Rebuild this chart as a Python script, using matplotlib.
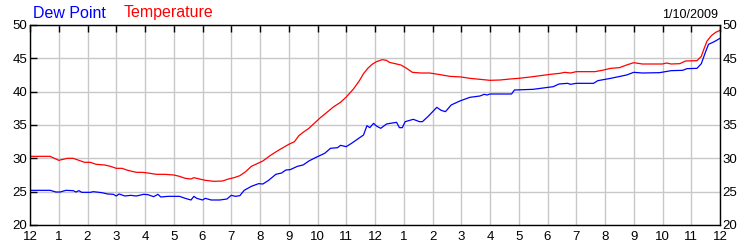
import matplotlib
matplotlib.use("Agg")
import matplotlib.pyplot as plt

# hours since midnight, 1/10/2009
TEMP_H = [0, 0.7, 0.85, 1.0, 1.1, 1.3, 1.5, 1.7, 1.9, 2.1, 2.3, 2.6, 2.8, 3.0, 3.2, 3.4, 3.7, 3.9,
          4.1, 4.4, 4.7, 5.0, 5.2, 5.4, 5.6, 5.7, 5.9, 6.1, 6.4, 6.7, 6.9, 7.1, 7.3, 7.5, 7.7, 7.9,
          8.1, 8.35, 8.6, 8.8, 9.0, 9.2, 9.35, 9.5, 9.7, 9.9, 10.1, 10.3, 10.55, 10.8, 11.0, 11.25,
          11.45, 11.6, 11.75, 11.9, 12.05, 12.25, 12.4, 12.5, 12.7, 12.9, 13.1, 13.3, 13.6, 13.9,
          14.2, 14.6, 15.0, 15.3, 15.65, 16.0, 16.35, 16.7, 17.0, 17.4, 17.75, 18.1, 18.43, 18.6,
          18.8, 19.0, 19.65, 19.9, 20.2, 20.5, 20.75, 21.0, 21.3, 21.6, 22.0, 22.14, 22.3, 22.6,
          22.8, 23.2, 23.35, 23.45, 23.55, 23.7, 23.85, 24]
TEMP = [30.3, 30.3, 30.0, 29.7, 29.8, 30.0, 30.0, 29.7, 29.4, 29.4, 29.1, 29.0, 28.8, 28.5, 28.5,
        28.2, 27.9, 27.9, 27.8, 27.6, 27.6, 27.5, 27.3, 27.0, 26.9, 27.1, 26.9, 26.7, 26.55, 26.6,
        26.9, 27.1, 27.4, 28.0, 28.8, 29.2, 29.6, 30.4, 31.1, 31.6, 32.1, 32.5, 33.4, 33.9, 34.5,
        35.3, 36.1, 36.8, 37.7, 38.4, 39.2, 40.4, 41.6, 42.7, 43.5, 44.1, 44.5, 44.8, 44.7, 44.4,
        44.2, 44.0, 43.5, 42.9, 42.8, 42.8, 42.6, 42.3, 42.2, 42.0, 41.85, 41.7, 41.75, 41.9, 42.0,
        42.2, 42.4, 42.6, 42.75, 42.9, 42.8, 43.0, 43.0, 43.2, 43.5, 43.6, 44.0, 44.35, 44.15,
        44.15, 44.15, 44.3, 44.15, 44.2, 44.6, 44.65, 45.3, 46.5, 47.6, 48.4, 48.9, 49.2]

DEW_H = [0, 0.7, 0.9, 1.05, 1.25, 1.5, 1.6, 1.7, 1.8, 2.1, 2.2, 2.5, 2.7, 2.9, 3.0, 3.1, 3.3, 3.5,
         3.7, 3.95, 4.1, 4.3, 4.45, 4.55, 4.8, 5.0, 5.2, 5.4, 5.6, 5.7, 5.8, 6.0, 6.1, 6.3, 6.6,
         6.85, 7.0, 7.15, 7.3, 7.45, 7.7, 7.95, 8.1, 8.3, 8.55, 8.75, 8.9, 9.05, 9.3, 9.5, 9.7,
         9.95, 10.25, 10.45, 10.7, 10.8, 11.0, 11.2, 11.4, 11.6, 11.72, 11.82, 11.95, 12.05, 12.2,
         12.4, 12.6, 12.75, 12.85, 12.95, 13.05, 13.33, 13.55, 13.65, 13.85, 14.15, 14.3, 14.45,
         14.65, 14.95, 15.3, 15.65, 15.8, 15.9, 16.0, 16.75, 16.85, 17.5, 18.2, 18.4, 18.7, 18.8,
         19.0, 19.6, 19.75, 20.2, 20.75, 21.0, 21.3, 21.9, 22.3, 22.7, 22.85, 23.2, 23.35, 23.5,
         23.6, 23.8, 24]
DEW = [25.2, 25.2, 24.95, 24.95, 25.2, 25.15, 24.95, 25.15, 24.9, 24.9, 25.0, 24.85, 24.65, 24.6,
       24.35, 24.65, 24.35, 24.45, 24.35, 24.6, 24.55, 24.25, 24.6, 24.2, 24.3, 24.3, 24.3, 24.0,
       23.75, 24.3, 24.0, 23.75, 24.0, 23.75, 23.75, 23.9, 24.45, 24.3, 24.4, 25.2, 25.8, 26.2,
       26.15, 26.7, 27.6, 27.8, 28.25, 28.3, 28.8, 29.0, 29.6, 30.15, 30.75, 31.5, 31.6, 31.95,
       31.75, 32.3, 32.9, 33.5, 34.9, 34.6, 35.25, 34.85, 34.5, 35.15, 35.3, 35.4, 34.6, 34.6, 35.5,
       35.85, 35.5, 35.5, 36.3, 37.65, 37.2, 37.0, 38.0, 38.6, 39.15, 39.35, 39.6, 39.5, 39.65,
       39.65, 40.25, 40.35, 40.75, 41.15, 41.25, 41.1, 41.25, 41.25, 41.65, 42.0, 42.5, 42.9, 42.8,
       42.85, 43.15, 43.2, 43.45, 43.5, 44.2, 46.0, 47.1, 47.5, 48.0]

HOUR_LABELS = ["12"] + [str(i) for i in range(1, 12)] + ["12"] + [str(i) for i in range(1, 12)] + ["12"]
Y_TICKS = [20, 25, 30, 35, 40, 45, 50]
DATE = "1/10/2009"

plt.rcParams["font.family"] = ["Liberation Sans", "DejaVu Sans"]
fig = plt.figure(figsize=(7.5, 2.5), dpi=100)
ax = fig.add_axes([0.04, 0.1, 0.92, 0.8])

ax.plot(TEMP_H, TEMP, color="#ff0000", lw=0.9)
ax.plot(DEW_H, DEW, color="#0000ff", lw=0.9)

ax.set_xlim(0, 24)
ax.set_ylim(20, 50)
ax.set_xticks(range(25))
ax.set_xticklabels(HOUR_LABELS)
ax.set_yticks(Y_TICKS)
ax.grid(True, color="#c8c8c8", lw=1.0)
ax.set_axisbelow(True)
for s in ax.spines.values():
    s.set_color("black"); s.set_linewidth(1.0)

ax.tick_params(axis="x", direction="in", top=True, bottom=False, labelbottom=True,
               length=5, width=1, labelsize=9.5, pad=4)
ax.tick_params(axis="y", direction="in", left=True, right=False, labelleft=True, labelright=True,
               length=5, width=1, labelsize=9.5, pad=2)

fig.text(0.044, 0.93, "Dew Point", color="#0000ff", fontsize=11.5, ha="left", va="baseline")
fig.text(0.165, 0.93, "Temperature", color="#ff0000", fontsize=11.5, ha="left", va="baseline")
fig.text(0.957, 0.93, DATE, color="black", fontsize=9, ha="right", va="baseline")

fig.savefig("out.png", dpi=100, facecolor="white")
